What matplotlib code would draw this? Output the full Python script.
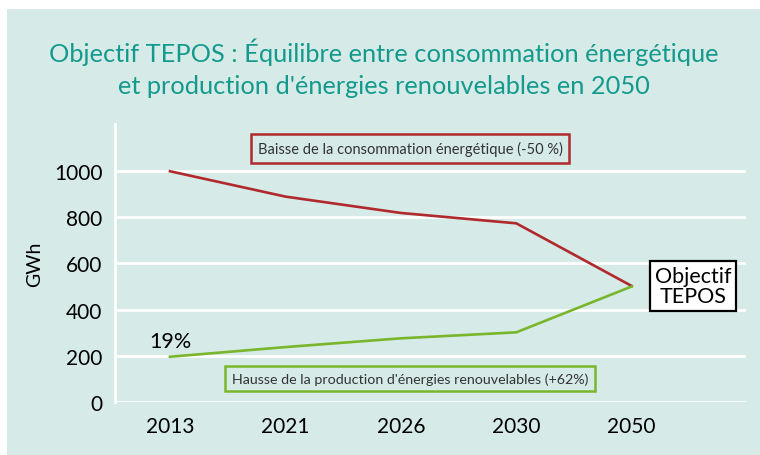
import matplotlib
matplotlib.use("Agg")
import matplotlib.pyplot as plt
from matplotlib.patches import Rectangle

# Data
years = ["2013", "2021", "2026", "2030", "2050"]
consommation = [1000, 890, 819, 774, 502]
production = [195, 237, 275, 301, 500]
y_ticks = [0, 200, 400, 600, 800, 1000]

TEAL = "#139a8d"
PANEL = "#d6ebe8"
RED = "#b0292c"
GREEN = "#79b62c"

plt.rcParams['font.family'] = ['Lato', 'DejaVu Sans']


def main():
    fig = plt.figure(figsize=(7.6, 4.56), dpi=100)
    fig.patch.set_facecolor("white")
    # teal panel behind everything
    fig.patches.append(Rectangle((7 / 760, 0), 1 - 7 / 760, 1 - 10 / 456,
                                 transform=fig.transFigure, facecolor=PANEL,
                                 edgecolor="none", zorder=-10))

    fig.text(0.505, 1 - 52 / 456, "Objectif TEPOS : Équilibre entre consommation énergétique",
             ha="center", va="center", fontsize=18.3, color=TEAL)
    fig.text(0.505, 1 - 86 / 456, "et production d'énergies renouvelables en 2050",
             ha="center", va="center", fontsize=18.3, color=TEAL)

    ax = fig.add_axes([115 / 760, 1 - 402.7 / 456, (746 - 115) / 760, (402.7 - 125) / 456])
    ax.set_facecolor("none")

    x = list(range(len(years)))
    ax.plot(x, consommation, color=RED, lw=1.9, zorder=3)
    ax.plot(x, production, color=GREEN, lw=1.9, zorder=3)

    ax.set_xlim(-0.476, 4.99)
    ax.set_ylim(0, 1205)
    ax.set_xticks(x)
    ax.set_xticklabels(years)
    ax.set_yticks(y_ticks)
    ax.tick_params(axis="both", length=0, labelsize=15, colors="black")
    ax.tick_params(axis="y", pad=9)
    ax.tick_params(axis="x", pad=10)
    ax.grid(axis="y", color="white", lw=2.0, zorder=1)
    for side in ["top", "right", "bottom"]:
        ax.spines[side].set_visible(False)
    ax.spines["left"].set_color("white")
    ax.spines["left"].set_linewidth(2.0)
    ax.set_ylabel("GWh", fontsize=14, labelpad=8)

    # annotations
    ax.text(0, 262, "19%", ha="center", va="center", fontsize=15.5)
    ax.text(2.08, 1099, "Baisse de la consommation énergétique (-50 %)",
            ha="center", va="center", fontsize=10.5, color="#333333",
            bbox=dict(boxstyle="square,pad=0.45", facecolor="none", edgecolor=RED, lw=1.8))
    ax.text(2.08, 101, "Hausse de la production d'énergies renouvelables (+62%)",
            ha="center", va="center", fontsize=10.3, color="#333333",
            bbox=dict(boxstyle="square,pad=0.45", facecolor="none", edgecolor=GREEN, lw=1.8))
    ax.text(4.53, 502, "Objectif\nTEPOS", ha="center", va="center", fontsize=15.5,
            linespacing=1.05,
            bbox=dict(boxstyle="square,pad=0.22", facecolor="white", edgecolor="black", lw=1.6),
            zorder=5)

    fig.savefig("out.png", dpi=100)
    plt.close(fig)


if __name__ == "__main__":
    main()
